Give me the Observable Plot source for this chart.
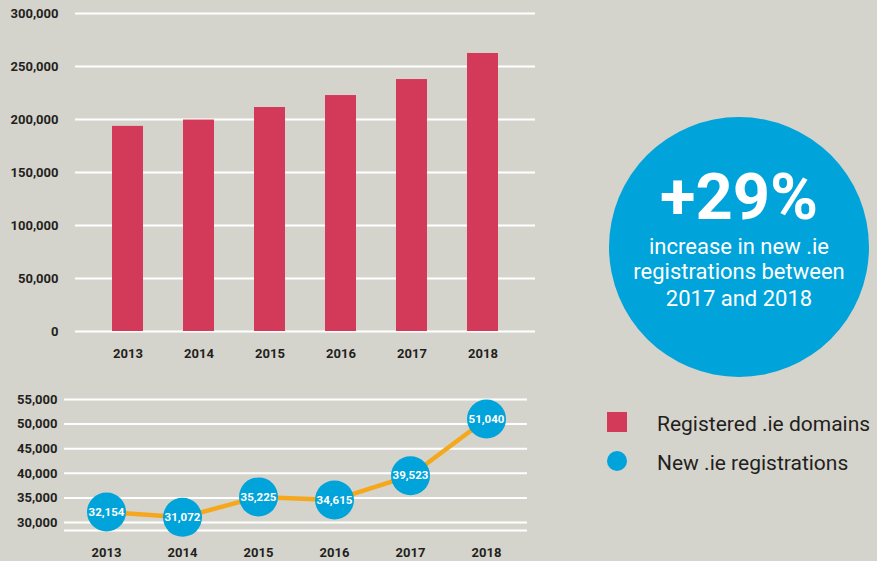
<!DOCTYPE html>
<html>
<head>
<meta charset="utf-8">
<script src="https://cdn.jsdelivr.net/npm/d3@7"></script>
<script src="https://cdn.jsdelivr.net/npm/@observablehq/plot@0.6"></script>
<style>
  html, body { margin: 0; padding: 0; background: #D5D4CC; }
  #wrap { position: relative; width: 877px; height: 561px; overflow: hidden; background: #D5D4CC; font-family: Roboto, "DejaVu Sans", sans-serif; color: #231F20; }
  #top, #bottom { position: absolute; left: 0; }
  #top { top: 0; }
  #bottom { top: 380px; }
  .abs { position: absolute; white-space: nowrap; }
  #bigcircle { position: absolute; left: 609px; top: 117px; width: 260px; height: 260px; border-radius: 50%; background: #00A3DA; }
  .ctext { position: absolute; left: 589px; width: 300px; text-align: center; color: #fff; white-space: nowrap; }
</style>
</head>
<body>
<div id="wrap">
  <div id="top"></div>
  <div id="bottom"></div>
  <div id="bigcircle"></div>
  <div class="ctext" id="bigNum" style="top:165px; font-size:65px; line-height:65px; font-weight:700;"></div>
  <div class="ctext" id="l1" style="top:235.5px; font-size:22px; line-height:22px;"></div>
  <div class="ctext" id="l2" style="top:261px; font-size:22px; line-height:22px;"></div>
  <div class="ctext" id="l3" style="top:288px; font-size:22px; line-height:22px;"></div>
  <div class="abs" style="left:607px; top:412px; width:20px; height:20px; background:#D33A5A;"></div>
  <div class="abs" id="leg1" style="left:657px; top:414px; font-size:21px; line-height:21px;"></div>
  <div class="abs" style="left:607px; top:451px; width:20px; height:20px; border-radius:50%; background:#00A3DA;"></div>
  <div class="abs" id="leg2" style="left:657px; top:453px; font-size:21px; line-height:21px;"></div>
</div>
<script>
// ---- data ----
const years = ["2013", "2014", "2015", "2016", "2017", "2018"];
const registeredDomains = [193500, 199500, 211300, 222600, 237700, 262300];
const newRegistrations = [32154, 31072, 35225, 34615, 39523, 51040];
const topTicks = [0, 50000, 100000, 150000, 200000, 250000, 300000];
const bottomTicks = [30000, 35000, 40000, 45000, 50000, 55000];
const bottomAxisMin = 28400;
const legendLabels = ["Registered .ie domains", "New .ie registrations"];
const calloutValue = "+29%";
const calloutLines = ["increase in new .ie", "registrations between", "2017 and 2018"];

// ---- build tables ----
const barData = years.map((y, i) => ({year: y, value: registeredDomains[i]}));
const lineData = years.map((y, i) => ({year: y, value: newRegistrations[i]}));
const fmt = d3.format(",");

const BAR = "#D33A5A", BLUE = "#00A3DA", ORANGE = "#F5A81C", TXT = "#231F20";
const axisStyle = {background: "transparent", fontFamily: "Roboto, 'DejaVu Sans', sans-serif", fontSize: "13px", fontWeight: 700, color: TXT, overflow: "visible"};

const topChart = Plot.plot({
  width: 545, height: 370,
  marginLeft: 75, marginRight: 10, marginTop: 13, marginBottom: 39,
  style: axisStyle,
  x: {domain: years, paddingInner: 0.565, paddingOuter: 0.51, label: null, tickSize: 0, tickPadding: 17},
  y: {domain: [0, 300000], ticks: topTicks, tickFormat: fmt, label: null, tickSize: 0, tickPadding: 17},
  marks: [
    Plot.ruleY(topTicks, {stroke: "white", strokeWidth: 2}),
    Plot.barY(barData, {x: "year", y: "value", fill: BAR})
  ]
});
document.getElementById("top").appendChild(topChart);

const bottomChart = Plot.plot({
  width: 545, height: 181,
  marginLeft: 64, marginRight: 18, marginTop: 19, marginBottom: 31,
  style: axisStyle,
  x: {type: "point", domain: years, padding: 0.53, label: null, tickSize: 0, tickPadding: 17},
  y: {domain: [bottomAxisMin, 55000], ticks: bottomTicks, tickFormat: fmt, label: null, tickSize: 0, tickPadding: 7},
  marks: [
    Plot.ruleY(bottomTicks, {stroke: "white", strokeWidth: 2}),
    Plot.ruleY([bottomAxisMin], {stroke: "white", strokeWidth: 2}),
    Plot.lineY(lineData, {x: "year", y: "value", stroke: ORANGE, strokeWidth: 4.5}),
    Plot.dot(lineData, {x: "year", y: "value", r: 19.5, fill: BLUE}),
    Plot.text(lineData, {x: "year", y: "value", text: d => fmt(d.value), fill: "white", fontSize: 11.5, fontWeight: 700})
  ]
});
document.getElementById("bottom").appendChild(bottomChart);

document.getElementById("bigNum").textContent = calloutValue;
document.getElementById("l1").textContent = calloutLines[0];
document.getElementById("l2").textContent = calloutLines[1];
document.getElementById("l3").textContent = calloutLines[2];
document.getElementById("leg1").textContent = legendLabels[0];
document.getElementById("leg2").textContent = legendLabels[1];
</script>
</body>
</html>
